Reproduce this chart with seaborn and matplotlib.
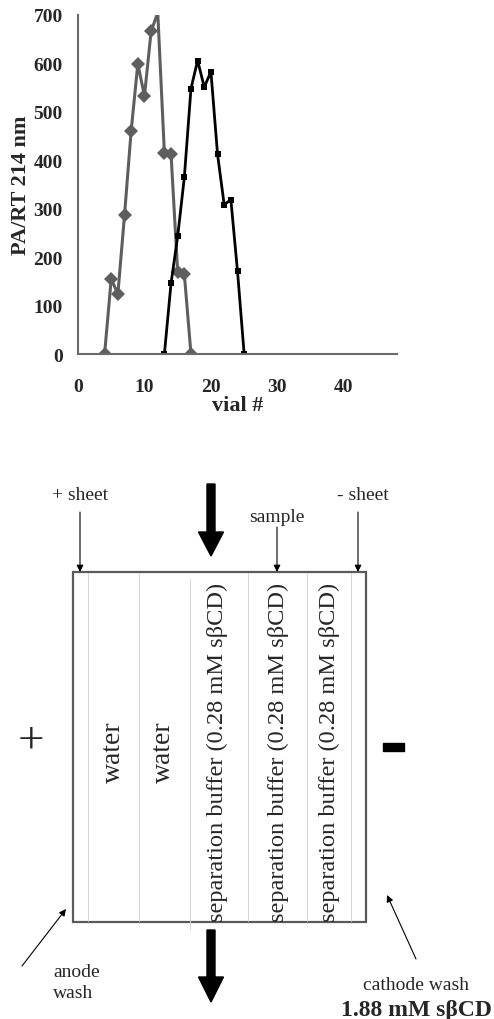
import numpy as np
import pandas as pd
import seaborn as sns
import matplotlib.pyplot as plt
from matplotlib.patches import Rectangle, FancyArrow

# fraction data (vial number vs. peak area / migration time)
vial_a = [4, 5, 6, 7, 8, 9, 10, 11, 12, 13, 14, 15, 16, 17]
area_a = [0, 155, 124, 287, 461, 599, 533, 666, 705, 415, 413, 169, 165, 0]
vial_b = [13, 14, 15, 16, 17, 18, 19, 20, 21, 22, 23, 24, 25]
area_b = [0, 146, 243, 365, 548, 606, 551, 583, 412, 308, 319, 171, 0]

x_ticks = [0, 10, 20, 30, 40]
y_ticks = [0, 100, 200, 300, 400, 500, 600, 700]

# lane labels of the FFE chamber, left to right
lane_labels = ["water", "water",
               "separation buffer (0.28 mM s\u03b2CD)",
               "separation buffer (0.28 mM s\u03b2CD)",
               "separation buffer (0.28 mM s\u03b2CD)"]

sns.set_style("white")
plt.rcParams["font.family"] = ["Liberation Serif", "DejaVu Serif"]

fig = plt.figure(figsize=(4.94, 10.2), dpi=100)

# ---- schematic, drawn in pixel coordinates ----
dg = fig.add_axes([0, 0, 1, 1])
dg.set_xlim(0, 494)
dg.set_ylim(1020, 0)
dg.axis("off")
dg.patch.set_alpha(0)

# chamber
for x in [87.7, 138.7, 248.3, 306.7, 350.7]:
    dg.plot([x, x], [574, 922], color="#d4d4d4", lw=0.7)
dg.plot([190, 190], [580, 930], color="#d4d4d4", lw=0.7)
dg.add_patch(Rectangle((73, 573), 293, 350, fill=False, ec="#5a5a5a", lw=1.6))

lane_x = [113, 163, 217, 278, 329]
for lx, lab in zip(lane_x, lane_labels):
    big = lab == "water"
    dg.text(lx, 752, lab, rotation=90, ha="center", va="center",
            fontsize=20 if big else 17.6)

# electrodes
dg.text(31, 741, "+", ha="center", va="center", fontsize=34)
dg.add_patch(Rectangle((382.7, 744), 21, 8, color="black"))

# flow arrows
dg.add_patch(FancyArrow(211, 485, 0, 72, width=8, head_width=25,
                        head_length=24, length_includes_head=True,
                        color="black"))
dg.add_patch(FancyArrow(211, 931, 0, 72, width=8, head_width=25,
                        head_length=25, length_includes_head=True,
                        color="black"))

# callouts
arw = dict(arrowstyle="-|>", color="black", lw=0.8, mutation_scale=10,
           shrinkA=0, shrinkB=0)
dg.text(80, 496, "+ sheet", ha="center", va="center", fontsize=14)
dg.annotate("", xy=(80, 573), xytext=(80, 513), arrowprops=arw)
dg.text(277, 518, "sample", ha="center", va="center", fontsize=14)
dg.annotate("", xy=(277, 573), xytext=(277, 528), arrowprops=arw)
dg.text(363, 496, "- sheet", ha="center", va="center", fontsize=14)
dg.annotate("", xy=(358, 573), xytext=(358, 513), arrowprops=arw)
dg.text(53, 983, "anode\nwash", ha="left", va="center", fontsize=14,
        linespacing=1.25)
dg.annotate("", xy=(66, 910), xytext=(22, 967), arrowprops=arw)
dg.text(416, 986, "cathode wash", ha="center", va="center", fontsize=14)
dg.text(416, 1011, "1.88 mM s\u03b2CD", ha="center", va="center",
        fontsize=17, fontweight="bold")
dg.annotate("", xy=(387, 896), xytext=(416, 960), arrowprops=arw)

# ---- fractogram ----
ax = fig.add_axes([78 / 494, 1 - 355 / 1020, 319 / 494, 339 / 1020])
sns.lineplot(x=vial_a, y=area_a, ax=ax, color="#5e5e5e", lw=2.2,
             marker="D", markersize=7, markeredgewidth=0,
             markevery=[i for i in range(len(vial_a)) if i != 8],
             sort=False)
sns.lineplot(x=vial_b, y=area_b, ax=ax, color="black", lw=2.0,
             marker="s", markersize=4, markeredgewidth=0, sort=False)

ax.set_xlim(0, 48)
ax.set_ylim(0, 700)
ax.set_xticks(x_ticks)
ax.set_yticks(y_ticks)
sns.despine(ax=ax)
for side in ["left", "bottom"]:
    ax.spines[side].set_color("#6a6a6a")
    ax.spines[side].set_linewidth(1.5)
ax.tick_params(direction="out", length=5, width=1.2, color="#6a6a6a",
               labelsize=14)
ax.tick_params(axis="x", pad=12)
ax.tick_params(axis="y", pad=6)
for lbl in ax.get_xticklabels() + ax.get_yticklabels():
    lbl.set_fontweight("bold")
ax.set_xlabel("vial #", fontsize=16, fontweight="bold", labelpad=0)
ax.set_ylabel("PA/RT 214 nm", fontsize=16, fontweight="bold", labelpad=2)
ax.patch.set_alpha(0)

fig.savefig("out.png", dpi=100)
plt.close(fig)
